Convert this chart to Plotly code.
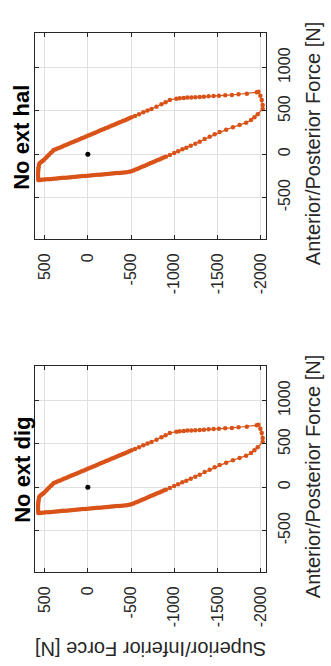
import plotly.graph_objects as go

# Polygon of feasible force (Superior/Inferior value, Anterior/Posterior value) [N]
sup_inf = [
    570, 552, 532, 504, 476, 448, 420, 392, 364, 336, 308, 280, 252, 224, 196, 168, 140, 112, 84, 56, 28, 0,
    -28, -56, -84, -112, -140, -168, -196, -224, -252, -280, -308, -336, -364, -392, -420, -449,
    -478, -503, -528, -553, -578, -603, -628, -653, -678, -703, -728, -753, -778, -803, -828, -853, -878, -903,
    -949, -999, -1045, -1094, -1140, -1191, -1244, -1295, -1352, -1410,
    -1468, -1525, -1601, -1679, -1756, -1832, -1889, -1928, -1966, -2024,
    -2024, -2013, -1997, -1974, -1955, -1840, -1744, -1667, -1590, -1517,
    -1456, -1398, -1344, -1295, -1244, -1198, -1152, -1110, -1064, -1025,
    -949, -900, -852, -795, -737, -691, -642, -592, -546, -507,
    -480, -455, -430, -405, -380, -355, -330, -305, -280, -255,
    -230, -205, -180, -155, -130, -105, -80, -55, -30, -5,
    20, 45, 70, 95, 120, 145, 170, 195, 220, 245,
    270, 295, 320, 345, 370, 395,
    410, 430, 450, 470, 490, 510, 525, 540, 558, 566, 570, 573, 575, 576, 576, 574, 570,
]
ant_post = [
    -297, -296, -294, -292, -289, -287, -284, -282, -279, -277, -274, -272, -270, -267, -265, -262, -260, -257, -255, -252, -250, -247,
    -245, -242, -240, -237, -235, -232, -230, -227, -225, -222, -220, -217, -215, -212, -210, -207,
    -203, -196, -187, -177, -166, -156, -145, -134, -124, -113, -102, -92, -81, -70, -60, -49, -38, -28,
    -8, 15, 35, 58, 76, 99, 122, 146, 177, 203,
    231, 258, 284, 312, 338, 365, 396, 427, 462, 523,
    569, 627, 677, 723, 716, 700, 693, 685, 681, 677,
    673, 670, 665, 662, 658, 654, 654, 650, 647, 642,
    627, 602, 577, 550, 523, 504, 485, 462, 442, 427,
    415, 405, 394, 384, 373, 363, 352, 342, 331, 321,
    310, 300, 289, 279, 268, 258, 247, 237, 226, 216,
    205, 195, 184, 174, 163, 153, 142, 132, 121, 111,
    100, 90, 79, 69, 58, 48,
    33, 15, -5, -25, -45, -66, -77, -88, -104, -125, -150, -175, -200, -225, -250, -275, -297,
]
origin_si = [0]
origin_ap = [0]

panel_titles = ["No ext hal", "No ext dig"]
si_ticks = [500, 0, -500, -1000, -1500, -2000]
si_ticktext = ["500", "0", "-500", "-1000", "-1500", "-2000"]
ap_ticks = [-500, 0, 500, 1000]
ap_ticktext = ["-500", "0", "500", "1000"]

ORANGE = "#D95319"
AXC = "#262626"
GRID = "#e0e0e0"
FONT = "Liberation Sans, Arial, sans-serif"
W, H = 331, 666

# pixel frames (left, right, top, bottom)
frames = [(35, 268, 33, 239), (35, 268, 366, 572)]

fig = go.Figure()
layout = dict(
    width=W, height=H, margin=dict(l=0, r=0, t=0, b=0),
    paper_bgcolor="white", plot_bgcolor="white", showlegend=False,
    font=dict(family=FONT, color=AXC, size=16),
)
annotations = []
for i, (l, r, t, b) in enumerate(frames):
    n = "" if i == 0 else str(i + 1)
    fig.add_trace(go.Scatter(
        x=sup_inf, y=ant_post, mode="lines+markers",
        line=dict(color=ORANGE, width=1.2),
        marker=dict(color=ORANGE, size=4.5),
        xaxis="x" + n, yaxis="y" + n, hoverinfo="skip",
    ))
    fig.add_trace(go.Scatter(
        x=origin_si, y=origin_ap, mode="markers",
        marker=dict(color="black", size=5),
        xaxis="x" + n, yaxis="y" + n, hoverinfo="skip",
    ))
    common = dict(showgrid=True, gridcolor=GRID, gridwidth=1, zeroline=False,
                  showline=True, linecolor=AXC, linewidth=1, mirror="ticks",
                  ticks="inside", ticklen=4, tickcolor=AXC, tickangle=-90,
                  tickfont=dict(family=FONT, size=16, color=AXC))
    layout["xaxis" + n] = dict(
        domain=[l / W, r / W], range=[615, -2057], anchor="y" + n,
        tickvals=si_ticks, ticktext=si_ticktext, ticklabelstandoff=7, **common)
    layout["yaxis" + n] = dict(
        domain=[1 - b / H, 1 - t / H], range=[-978, 1400], anchor="x" + n, side="right",
        tickvals=ap_ticks, ticktext=ap_ticktext, ticklabelstandoff=4, **common)
    cy = (t + b) / 2
    annotations.append(dict(
        text="<b>" + panel_titles[i] + "</b>", x=22 / W, y=1 - (cy + 1) / H,
        xref="paper", yref="paper", showarrow=False, textangle=-90,
        font=dict(family=FONT, size=22, color="black"), xanchor="center", yanchor="middle"))
    annotations.append(dict(
        text="Anterior/Posterior Force [N]", x=316 / W, y=1 - (cy + 8) / H,
        xref="paper", yref="paper", showarrow=False, textangle=-90,
        font=dict(family=FONT, size=20, color=AXC), xanchor="center", yanchor="middle"))

annotations.append(dict(
    text="Superior/Inferior Force [N]", x=152 / W, y=1 - 649 / H,
    xref="paper", yref="paper", showarrow=False, textangle=180,
    font=dict(family=FONT, size=20, color=AXC), xanchor="center", yanchor="middle"))
layout["annotations"] = annotations
fig.update_layout(**layout)
fig.write_html("out.html", config={"displayModeBar": False},
               post_script="document.body.style.margin='0';document.body.style.overflow='hidden';")
